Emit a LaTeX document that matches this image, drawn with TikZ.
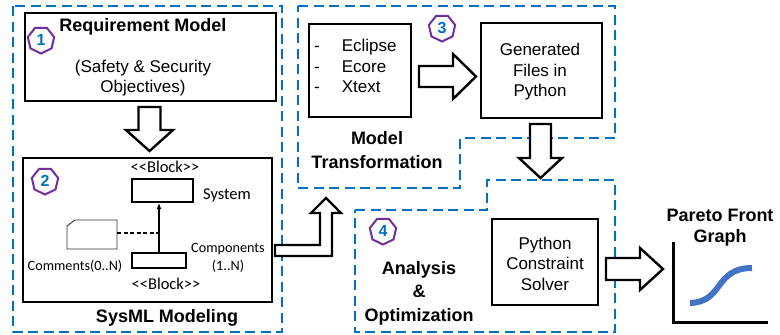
\documentclass[tikz,border=0pt]{standalone}
\usepackage{fontspec}
\setmainfont{Liberation Sans}
\newfontfamily\calib{Carlito}
\usetikzlibrary{shapes.geometric,arrows.meta}
\definecolor{dblue}{HTML}{0070C0}
\definecolor{bpurple}{HTML}{7030A0}
\definecolor{cblue}{HTML}{4472C4}
\begin{document}
\begin{tikzpicture}[x=1pt,y=-1pt,
  region/.style={draw=dblue,line width=2.5pt,dash pattern=on 10pt off 5.5pt},
  box/.style={draw=black,line width=2.6pt,fill=white,inner sep=0pt},
  blockarrow/.style={draw=black,line width=2.4pt,fill=white,line join=miter},
  badge/.style={regular polygon,regular polygon sides=7,shape border rotate=180,draw=bpurple,line width=2pt,minimum size=27pt,inner sep=0pt,text=dblue,font=\fontsize{16}{16}\selectfont\bfseries},
  lbl/.style={font=\fontsize{17}{20.5}\selectfont,align=center,inner sep=0pt},
  blbl/.style={font=\fontsize{18}{23.5}\selectfont\bfseries,align=center,inner sep=0pt},
  umlbox/.style={draw=black,line width=2pt,fill=white,inner sep=0pt},
  umltxt/.style={font=\calib\fontsize{16.5}{18}\selectfont,align=center,inner sep=0pt},
  umlsmall/.style={font=\calib\fontsize{14.2}{18}\selectfont,align=center,inner sep=0pt}
]
\useasboundingbox (0,0) rectangle (780,335);

% dashed regions
\draw[region] (13,6) rectangle (282,332);
\draw[region] (298,6) -- (615,6) -- (615,138) -- (460,138) -- (460,188) -- (298,188) -- cycle;
\draw[region] (355,210) -- (487,210) -- (487,180) -- (615,180) -- (615,332) -- (355,332) -- cycle;

% 1 Requirement model
\node[box,minimum width=251pt,minimum height=88pt] (req) at (150.5,57) {};
\node[blbl] (reqt) at (143,27) {Requirement Model};
\node[lbl] (reqs) at (143,78) {(Safety \& Security\\Objectives)};
\node[badge] (b1) at (41,40) {1};

% down arrow 1 -> 2
\draw[blockarrow] (138.5,107) -- (160.5,107) -- (160.5,130) -- (173,130) -- (149.5,151) -- (126,130) -- (138.5,130) -- cycle;

% 2 SysML
\node[box,minimum width=249pt,minimum height=144pt] (sysml) at (147.5,230) {};
\node[badge] (b2) at (45,181) {2};
\node[blbl] (sysmlt) at (167,318) {SysML Modeling};
\node[umltxt] (blk1) at (165,167) {<{}<Block>{}>};
\node[umlbox,minimum width=61pt,minimum height=23pt] (sys) at (162.5,190.5) {};
\node[umltxt] (syst) at (227,195) {System};
\node[umlbox,minimum width=54pt,minimum height=15pt] (comp) at (159,260.5) {};
\node[umlsmall] (compt) at (228,258) {Components\\(1..N)};
\node[umltxt] (blk2) at (166,284) {<{}<Block>{}>};
\draw[line width=0.9pt,draw=black!80,fill=white] (67,249) -- (67,226) -- (75,220) -- (117,220) -- (117,249) -- cycle;
\coordinate (cmt) at (117,233);
\node[umlsmall] (cmtt) at (75,266) {Comments(0..N)};
\draw[line width=1.6pt,-{Latex[length=6pt,width=5pt]}] (comp.north) -- (comp.north |- sys.south);
\draw[line width=1.6pt,dash pattern=on 4pt off 2.5pt] (cmt) -- (cmt -| comp.north);

% bent arrow 2 -> 3
\draw[blockarrow] (275,245) -- (320,245) -- (320,213) -- (311,213) -- (326,198) -- (341,213) -- (332,213) -- (332,256) -- (275,256) -- cycle;

% 3 Model transformation
\node[box,minimum width=102pt,minimum height=93pt] (ecl) at (360,70.5) {};
\node[lbl,anchor=west,align=left] (eclt) at (314,68) {\begin{tabular}{@{}l@{\hspace{22pt}}l@{}}-&Eclipse\\-&Ecore\\-&Xtext\end{tabular}};
\node[badge] (b3) at (442,28) {3};
\draw[blockarrow] (419,66) -- (453,66) -- (453,54) -- (476,76.5) -- (453,99) -- (453,87) -- (419,87) -- cycle;
\node[box,minimum width=121pt,minimum height=95pt] (gen) at (541.5,70.5) {};
\node[lbl] (gent) at (540,72) {Generated\\Files in\\Python};
\node[blbl] (mtt) at (377,150) {Model\\Transformation};

% down arrow 3 -> 4
\draw[blockarrow] (530,124) -- (551,124) -- (551,158) -- (562,158) -- (540.5,178) -- (519,158) -- (530,158) -- cycle;

% 4 Analysis
\node[badge] (b4) at (383,231) {4};
\node[blbl] (anat) at (419,293) {Analysis\\\&\\Optimization};
\node[box,minimum width=106pt,minimum height=86pt] (solv) at (545,262) {};
\node[lbl] (solvt) at (545,263.5) {Python\\Constraint\\Solver};

% arrow to graph
\draw[blockarrow] (606,258) -- (640,258) -- (640,248) -- (663,269) -- (640,290) -- (640,280) -- (606,280) -- cycle;

% Pareto graph
\node[blbl,font=\fontsize{18}{21}\selectfont\bfseries] (part) at (720,227.5) {Pareto Front\\Graph};
\draw[line width=3pt] (673,242) -- (673,322) -- (768,322);
\draw[cblue,line width=6pt] (690,303) .. controls (724,302) and (714,268) .. (752,268);
\end{tikzpicture}
\end{document}
